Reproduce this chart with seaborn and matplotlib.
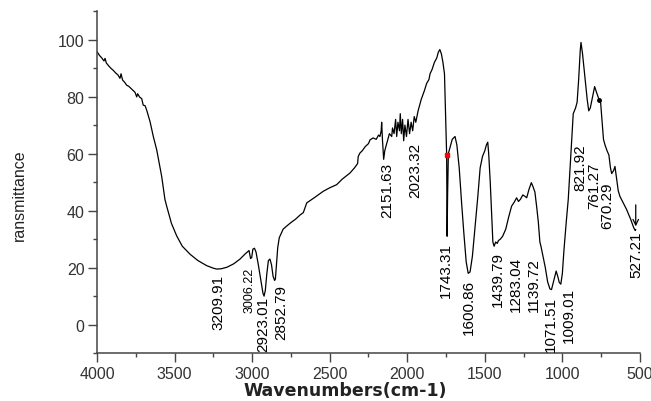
import numpy as np
import matplotlib
matplotlib.use("Agg")
import matplotlib.pyplot as plt
import seaborn as sns
from matplotlib.ticker import MultipleLocator

# FTIR spectrum
wavenumber = [4000, 3985, 3970, 3955, 3948, 3940, 3925, 3910, 3895, 3880, 3865, 3852, 3845,
              3835, 3820, 3809, 3795, 3780, 3768, 3755, 3744, 3738, 3725, 3712, 3702, 3690,
              3680, 3658, 3637, 3615, 3583, 3562, 3551, 3520, 3486, 3450, 3400, 3350, 3293,
              3250, 3228, 3200, 3164, 3120, 3078, 3045, 3030, 3020, 3010, 3003, 2995, 2985,
              2975, 2960, 2945, 2930, 2923, 2915, 2905, 2895, 2885, 2875, 2865, 2855, 2850,
              2842, 2835, 2825, 2800, 2777, 2750, 2720, 2690, 2670, 2648, 2600, 2541, 2500,
              2455, 2420, 2369, 2340, 2320, 2316, 2305, 2290, 2270, 2250, 2240, 2220, 2200,
              2185, 2176, 2168, 2165, 2160, 2152, 2145, 2130, 2115, 2100, 2095, 2085, 2075,
              2068, 2060, 2050, 2045, 2038, 2030, 2023, 2015, 2005, 1995, 1985, 1975, 1965,
              1955, 1945, 1930, 1910, 1890, 1875, 1860, 1853, 1840, 1825, 1810, 1800, 1790,
              1780, 1770, 1760, 1755, 1750, 1746, 1743, 1740, 1735, 1725, 1710, 1692, 1680,
              1665, 1650, 1635, 1620, 1607, 1595, 1580, 1565, 1545, 1530, 1515, 1500, 1490,
              1481, 1475, 1465, 1455, 1448, 1440, 1430, 1420, 1412, 1400, 1385, 1365, 1345,
              1327, 1310, 1295, 1283, 1270, 1255, 1241, 1230, 1215, 1200, 1190, 1177, 1165,
              1155, 1145, 1138, 1125, 1110, 1095, 1080, 1070, 1055, 1040, 1030, 1020, 1010,
              1000, 990, 975, 962, 945, 930, 915, 905, 895, 885, 880, 870, 855, 840, 830,
              820, 805, 792, 780, 770, 762, 755, 745, 735, 725, 712, 700, 690, 682, 670,
              661, 650, 640, 629, 610, 586, 560, 540, 530, 527]
transmittance = [95.8, 94.5, 93.6, 92.5, 93.4, 91.8, 90.8, 89.9, 89.2, 88.3, 87.6, 86.4, 88.0,
                 85.8, 84.9, 84.0, 83.6, 82.8, 82.2, 81.5, 79.9, 81.0, 79.8, 79.3, 77.0, 76.8,
                 75.3, 71.2, 66.0, 61.3, 52.0, 43.9, 41.6, 35.5, 31.1, 27.5, 24.7, 22.5, 20.7,
                 19.8, 19.5, 19.6, 20.1, 21.3, 23.0, 24.8, 25.5, 26.0, 23.2, 23.5, 26.5, 26.8,
                 25.5, 21.0, 16.0, 11.0, 10.0, 12.0, 18.0, 22.5, 23.0, 21.0, 17.0, 15.5, 16.0,
                 22.0, 27.0, 30.5, 33.5, 34.6, 35.8, 37.0, 38.5, 39.3, 42.7, 44.5, 46.8, 48.0,
                 49.1, 51.0, 53.2, 55.0, 56.5, 59.0, 60.2, 61.0, 62.5, 63.5, 64.8, 65.5, 65.0,
                 66.5, 66.0, 68.0, 71.0, 65.0, 58.0, 61.0, 64.0, 67.0, 66.0, 69.0, 67.0, 72.0,
                 66.0, 71.0, 68.0, 74.0, 67.0, 72.0, 64.5, 70.0, 66.0, 72.0, 67.0, 71.0, 68.0,
                 73.0, 71.0, 75.0, 79.0, 82.0, 84.6, 86.0, 88.0, 89.5, 92.0, 93.5, 95.5, 96.5,
                 95.0, 92.0, 88.0, 78.0, 68.0, 59.6, 31.0, 45.0, 60.0, 62.0, 65.0, 66.0, 63.0,
                 55.0, 43.0, 32.0, 22.0, 18.0, 18.5, 24.0, 33.0, 45.0, 55.0, 59.0, 61.0, 63.0,
                 64.0, 60.0, 50.0, 38.0, 29.0, 27.5, 29.0, 28.5, 29.5, 30.0, 31.0, 33.5, 38.0,
                 41.6, 43.0, 44.5, 43.2, 44.0, 45.5, 45.0, 44.5, 47.5, 49.8, 48.5, 46.5, 41.0,
                 36.0, 29.0, 27.5, 24.0, 20.0, 15.0, 12.5, 12.3, 15.5, 18.8, 17.0, 14.8, 14.2,
                 18.0, 26.0, 36.0, 44.0, 60.0, 74.0, 76.0, 78.0, 86.0, 96.0, 99.0, 95.0, 87.0,
                 79.0, 75.0, 76.0, 80.0, 83.5, 81.5, 80.0, 78.7, 79.0, 72.0, 65.0, 63.0, 61.0,
                 59.5, 55.0, 53.0, 54.0, 55.5, 51.0, 47.0, 45.0, 43.0, 40.4, 37.0, 34.0, 33.0,
                 33.4]

# peak labels (text, anchor of the label's top end)
peak_text = ["3209.91", "3006.22", "2923.01", "2852.79", "2151.63", "2023.32", "1743.31",
             "1600.86", "1439.79", "1283.04", "1139.72", "1071.51", "1009.01", "821.92",
             "761.27", "670.29", "527.21"]
peak_x = [3214, 3014, 2930, 2814, 2131, 1950, 1752, 1602, 1418, 1300, 1183, 1074, 957,
          881, 796, 709, 526]
peak_y = [17.8, 20.2, 10.0, 14.3, 57.2, 64.2, 28.9, 16.0, 25.9, 24.1, 23.7, 10.2, 13.2,
          63.7, 57.2, 50.3, 32.9]

sns.set_style("ticks")
fig = plt.figure(figsize=(6.51, 4.02), dpi=100)
ax = fig.add_axes([0.149, 0.119, 0.834, 0.851])

sns.lineplot(x=wavenumber, y=transmittance, ax=ax, color="black", linewidth=0.9,
             sort=False, estimator=None)
ax.plot([1746], [59.6], marker="s", ms=2.5, color="red", lw=0)
ax.plot([762], [78.7], marker="o", ms=2.5, color="black", lw=0)
ax.annotate("", xy=(527, 33.5), xytext=(527, 43),
            arrowprops=dict(arrowstyle="->", color="black", lw=0.9))

ax.set_xlim(4000, 500)
ax.set_ylim(-10, 110)
ax.xaxis.set_major_locator(MultipleLocator(500))
ax.xaxis.set_minor_locator(MultipleLocator(250))
ax.set_yticks([0, 20, 40, 60, 80, 100])
ax.yaxis.set_minor_locator(MultipleLocator(10))
ax.tick_params(which="major", direction="out", length=6.5, width=1.0, color="#444444",
               labelsize=11.5, labelcolor="#333333", pad=2.5)
ax.tick_params(which="minor", direction="out", length=3.2, width=1.0, color="#444444")
for lab in ax.get_xticklabels() + ax.get_yticklabels():
    lab.set_family("Liberation Sans")
sns.despine(ax=ax)
for side in ["left", "bottom"]:
    ax.spines[side].set_linewidth(1.1)
    ax.spines[side].set_color("#444444")
ax.set_xlabel("")
ax.set_ylabel("")

for t, x, y in zip(peak_text, peak_x, peak_y):
    size = 9 if t == "3006.22" else 11
    ax.text(x, y, t, rotation=90, ha="center", va="top", fontsize=size,
            family="Liberation Sans", color="black")

fig.text(0.531, 0.004, "Wavenumbers(cm-1)", ha="center", va="bottom",
         fontsize=12.5, fontweight="bold", family="DejaVu Sans", color="#222222")
fig.text(0.03, 0.515, "ransmittance", ha="center", va="center", rotation=90,
         fontsize=11.5, family="Liberation Sans", color="#222222")

fig.savefig("out.png", dpi=100)
